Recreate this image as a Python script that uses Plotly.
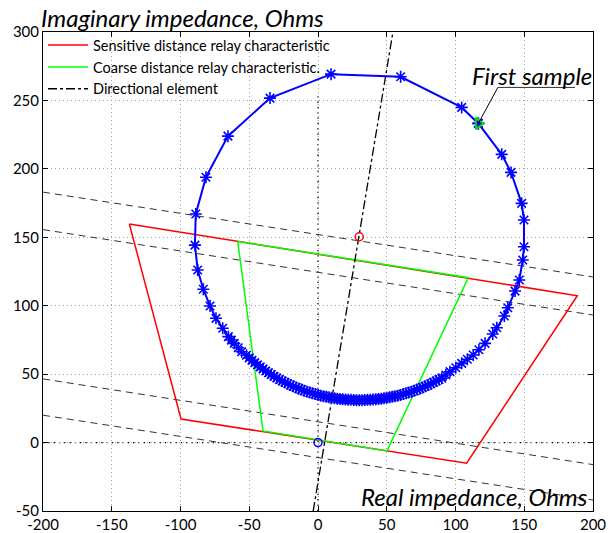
import plotly.graph_objects as go

# ---- data ----
traj_x = [116.6, 133.6, 140.4, 148.1, 149.8, 149.8, 148.9, 146.4, 143.3, 138.0, 135.5, 130.0, 127.1, 121.5, 117.0,
          112.9, 108.6, 104.5, 100.2, 96.0, 93.0, 90.0,
          88, 86, 84, 82, 80, 78, 76, 74, 72, 70, 68, 66, 64, 62, 60, 58, 56, 54, 52, 50, 48, 46, 44, 42, 40,
          38, 36, 34, 32, 30, 28, 26, 24, 22, 20, 18, 16, 14, 12, 10, 8, 6, 4, 2, 0, -2, -4, -6, -8, -10,
          -12, -14, -16, -18, -20, -22, -24, -26, -28, -30, -32, -34, -36, -38, -40, -42, -44, -46, -48, -50,
          -52, -55.5, -58.0, -60.9, -63.0, -65.2, -69.3, -74.2, -78.5, -83.4, -87.5, -89.5, -88.9, -81.5, -65.5,
          -34.9, 9.5, 60.1, 104.5, 116.6]
traj_y = [233.2, 210.6, 197.4, 174.8, 162.6, 143.1, 133.4, 118.8, 110.7, 98.5, 92.5, 83.9, 79.3, 72.5, 67.8,
          64.0, 60.9, 57.9, 54.7, 51.8, 49.4, 47.0,
          46.1, 45.0, 44.0, 43.0, 42.0, 41.1, 40.3, 39.4, 38.7, 37.9, 37.2, 36.6, 36.0, 35.4, 34.8, 34.3, 33.9,
          33.4, 33.1, 32.7, 32.4, 32.1, 31.8, 31.6, 31.4, 31.3, 31.2, 31.1, 31.0, 31.0, 31.0, 31.1, 31.2, 31.3,
          31.4, 31.6, 31.8, 32.1, 32.4, 32.7, 33.1, 33.4, 33.9, 34.3, 34.8, 35.4, 36.0, 36.6, 37.2, 37.9, 38.7,
          39.4, 40.3, 41.1, 42.0, 43.0, 44.0, 45.0, 46.1, 47.2, 48.4, 49.7, 51.0, 52.3, 53.8, 55.3, 56.8, 58.4,
          60.1, 61.9, 63.8, 66.4, 69.3, 72.5, 74.9, 77.4, 83.5, 90.8, 99.8, 112.0, 126.1, 144.3, 167.0, 193.9,
          223.9, 251.7, 269.2, 267.3, 244.9, 233.2]

first_x = [116.6]
first_y = [233.2]

red_x = [-137.2, 188.6, 108.1, -99.6, -137.2]
red_y = [159.7, 107.3, -15.1, 17.2, 159.7]

green_x = [-58.4, 109.3, 50.2, -40.0, -58.4]
green_y = [147.0, 120.5, -6.1, 8.5, 147.0]

dir_x = [-3.5, 54.5]
dir_y = [-50.0, 300.0]

center_x = [30.0]
center_y = [150.4]
origin_x = [0.0]
origin_y = [0.0]

# dashed reference lines: (y at x=-200, y at x=200)
dash_x = [-200, 200]
dash_lines_y = [[183.0, 121.0], [155.6, 93.2], [46.5, -16.1], [20.0, -42.0]]

x_ticks = [-200, -150, -100, -50, 0, 50, 100, 150, 200]
x_tick_labels = ["-200", "-150", "-100", "-50", "0", "50", "100", "150", "200"]
y_ticks = [-50, 0, 50, 100, 150, 200, 250, 300]
y_tick_labels = ["-50", "0", "50", "100", "150", "200", "250", "300"]

FONT = "Lato"
fig = go.Figure()

for ys in dash_lines_y:
    fig.add_trace(go.Scatter(x=dash_x, y=ys, mode="lines", showlegend=False, hoverinfo="skip",
                             line=dict(color="#333333", width=1, dash="7px,5px")))

fig.add_trace(go.Scatter(x=red_x, y=red_y, mode="lines", name="Sensitive distance relay characteristic",
                         line=dict(color="#ff0000", width=1.5)))
fig.add_trace(go.Scatter(x=green_x, y=green_y, mode="lines", name="Coarse distance relay characteristic.",
                         line=dict(color="#00ff00", width=1.5)))
fig.add_trace(go.Scatter(x=dir_x, y=dir_y, mode="lines", name="Directional element",
                         line=dict(color="black", width=1.3, dash="dashdot")))

fig.add_trace(go.Scatter(x=traj_x, y=traj_y, mode="lines+markers", showlegend=False,
                         line=dict(color="#0000ff", width=2),
                         marker=dict(symbol="asterisk-open", size=10, color="#0000ff",
                                     line=dict(color="#0000ff", width=1.6))))
fig.add_trace(go.Scatter(x=first_x, y=first_y, mode="markers", showlegend=False,
                         marker=dict(symbol="triangle-right-open", size=10, color="#00dd00",
                                     line=dict(color="#00dd00", width=2))))
fig.add_trace(go.Scatter(x=center_x, y=center_y, mode="markers", showlegend=False,
                         marker=dict(symbol="circle-open", size=8, color="#ff0000",
                                     line=dict(color="#ff0000", width=1.5))))
fig.add_trace(go.Scatter(x=origin_x, y=origin_y, mode="markers", showlegend=False,
                         marker=dict(symbol="circle-open", size=8, color="#0000ff",
                                     line=dict(color="#0000ff", width=1.5))))

shapes = [
    dict(type="line", xref="x", yref="paper", x0=0, x1=0, y0=0, y1=1,
         line=dict(color="black", width=1.3, dash="1.3px,4px"), layer="below"),
    dict(type="line", xref="paper", yref="y", x0=0, x1=1, y0=0, y1=0,
         line=dict(color="black", width=1.3, dash="1.3px,4px"), layer="below"),
    # white legend background (hides grid, not traces)
    dict(type="rect", xref="paper", yref="paper", x0=0, x1=0.53, y0=0.872, y1=1,
         fillcolor="white", line=dict(width=0), layer="between"),
    dict(type="line", xref="x", yref="y", x0=116.6, y0=233.2, x1=130.8, y1=259.5,
         line=dict(color="black", width=1)),
    dict(type="line", xref="x", yref="y", x0=130.8, y0=259.5, x1=186.9, y1=259.5,
         line=dict(color="#333333", width=1)),
]

annotations = [
    dict(text="<i>Imaginary impedance, Ohms</i>", xref="paper", yref="paper", x=0.0, y=1.0,
         xanchor="left", yanchor="bottom", showarrow=False, font=dict(family=FONT, size=24, color="black"),
         xshift=-4, yshift=-2),
    dict(text="<i>Real impedance, Ohms</i>", xref="paper", yref="paper", x=0.995, y=0.03,
         xanchor="right", yanchor="middle", showarrow=False, font=dict(family=FONT, size=24, color="black")),
    dict(text="<i>First sample</i>", xref="x", yref="y", x=155.8, y=268.5,
         xanchor="center", yanchor="middle", showarrow=False, font=dict(family=FONT, size=24, color="black")),
]

axis_common = dict(showline=True, linecolor="black", linewidth=1, mirror="ticks", ticks="inside",
                   ticklen=5, tickcolor="black", showgrid=True, gridcolor="#a0a0a0", griddash="1px,3px",
                   gridwidth=1, zeroline=False, tickfont=dict(family=FONT, size=15, color="black"),
                   automargin=False)

fig.update_layout(
    width=616, height=533,
    margin=dict(l=43, r=23, t=32, b=22),
    paper_bgcolor="white", plot_bgcolor="white",
    xaxis=dict(range=[-200, 200], tickvals=x_ticks, ticktext=x_tick_labels, **axis_common),
    yaxis=dict(range=[-50, 300], tickvals=y_ticks, ticktext=y_tick_labels, **axis_common),
    legend=dict(x=0, y=1.006, xanchor="left", yanchor="top", bgcolor="rgba(0,0,0,0)", borderwidth=0,
                font=dict(family=FONT, size=14.5, color="black"), tracegroupgap=0, itemwidth=40),
    shapes=shapes, annotations=annotations, showlegend=True,
)

# remove the default 8px page margin so the figure sits at the window's top-left corner
fig.write_html("out.html", config={"displayModeBar": False},
               post_script="document.body.style.margin='0px';")
